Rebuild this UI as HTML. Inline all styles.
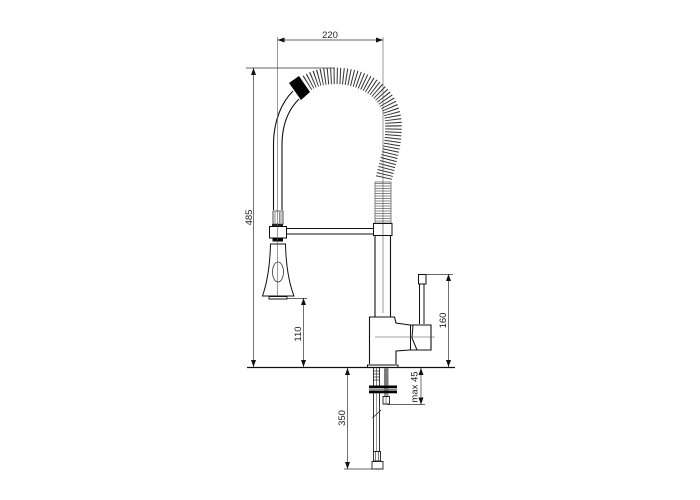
<!DOCTYPE html>
<html>
<head>
<meta charset="utf-8">
<style>
html,body{margin:0;padding:0;background:#fff}
svg{display:block}
text{font-family:"Liberation Sans",sans-serif;font-size:9.500px;fill:#222}
</style>
</head>
<body>
<svg width="700" height="500" viewBox="0 0 700 500" xmlns="http://www.w3.org/2000/svg">
<rect width="700" height="500" fill="#fff"/>

<!-- coil -->
<path d="M307 83 C318 76 330 75.500 341 76 C368 78 393 96 393.500 125 C394 145 388 160 384 178" fill="none" stroke="#333" stroke-width="16.500" stroke-dasharray="1 2.100"/>
<path d="M375 182H391V223H375Z" fill="#fff" stroke="#666" stroke-width=".8"/>
<path d="M375 183.500H391M375 186H391M375 188.500H391M375 191H391M375 193.500H391M375 196H391M375 198.500H391M375 201H391M375 203.500H391M375 206H391M375 208.500H391M375 211H391M375 213.500H391M375 216H391M375 218.500H391M375 221H391" stroke="#666" stroke-width=".8" fill="none"/>

<!-- hose -->
<path d="M273.500 210V145C273.500 120 282 102 293 91" fill="none" stroke="#111" stroke-width="1.100"/>
<path d="M282 210V145C282 125 288 110 299 99" fill="none" stroke="#111" stroke-width="1.100"/>
<polygon points="289,83 299,76 310,92 301,100" fill="#000"/>

<!-- nut -->
<path d="M273 211H283V224H273Z" fill="#fff" stroke="#222" stroke-width=".8"/>
<path d="M275 212V223M279.500 212V223M281 212V223" stroke="#555" stroke-width=".7"/>
<rect x="272" y="224" width="11" height="2" fill="#222"/>
<rect x="269.500" y="226.500" width="17" height="11.500" fill="#fff" stroke="#111" stroke-width="1"/>
<rect x="272.500" y="238" width="10.500" height="3.500" fill="#000"/>
<!-- bar -->
<path d="M286 228.500H374M286 234H374" stroke="#111" stroke-width="1.100"/>
<!-- handle -->
<path d="M270.500 244H285.500C286 265 289 283 294 296H262.500C267 283 270 265 270.500 244Z" fill="#fff" stroke="#111" stroke-width="1"/>
<path d="M269 296.500H287V299H269Z" fill="#fff" stroke="#111" stroke-width=".9"/>
<ellipse cx="278" cy="272" rx="5.500" ry="10" fill="#fff" stroke="#333" stroke-width=".8"/>

<!-- centre lines -->
<path d="M277.500 37V296" stroke="#555" stroke-width=".6"/>
<path d="M383 37V313" stroke="#555" stroke-width=".6"/>

<!-- column -->
<rect x="373.500" y="223.500" width="18.500" height="12" fill="#fff" stroke="#111" stroke-width="1"/>
<path d="M383 223.500V235.500" stroke="#444" stroke-width=".6"/>
<path d="M375 235.500V317M390.500 235.500V317" stroke="#111" stroke-width="1.100"/>

<!-- body -->
<path d="M369.500 364V317H394.500L396 323L410 325H431V350H410L396 351V364" fill="#fff" stroke="#111" stroke-width="1.100"/>
<path d="M410.500 325V350M413 325L412 338L417 350" fill="none" stroke="#111" stroke-width="1"/>
<path d="M367.500 367V365H398V367" fill="#fff" stroke="#111" stroke-width="1"/>
<path d="M375 337H435" stroke="#444" stroke-width=".6"/>
<!-- lever -->
<path d="M419.500 324V284M424 324V284" stroke="#111" stroke-width="1"/>
<rect x="418.500" y="274.500" width="7.500" height="9.500" fill="#fff" stroke="#111" stroke-width="1"/>

<!-- below deck -->
<path d="M373.500 368V386M379.500 368V386" stroke="#222" stroke-width=".9"/>
<path d="M373.500 371H379.500M373.500 374H379.500M373.500 377H379.500M373.500 380H379.500" stroke="#333" stroke-width=".8"/>
<path d="M376.500 368V386" stroke="#444" stroke-width=".7"/>
<rect x="384" y="368" width="4.500" height="28" fill="#999"/>
<path d="M384 370H388.500M384 372H388.500M384 374H388.500M384 376H388.500M384 378H388.500M384 380H388.500M384 382H388.500M384 384H388.500" stroke="#444" stroke-width=".7"/>
<rect x="369" y="385.500" width="28" height="2.800" fill="#000"/>
<rect x="369" y="390.500" width="28" height="2.800" fill="#000"/>
<path d="M369 389.400H397" stroke="#666" stroke-width=".7"/>
<path d="M373.500 393V452M379.500 393V452" stroke="#222" stroke-width=".9"/>
<path d="M376.500 393V469" stroke="#555" stroke-width=".6"/>
<path d="M372.500 418L381 410" stroke="#222" stroke-width=".8"/>
<path d="M383 396.500H389.500V404H383Z" fill="#fff" stroke="#222" stroke-width=".9"/>
<path d="M386 396.500V404" stroke="#444" stroke-width=".6"/>
<path d="M373.500 451.500H380.500V461H373.500Z" fill="#fff" stroke="#222" stroke-width=".9"/>
<path d="M375.500 452V461M378.500 452V461" stroke="#444" stroke-width=".7"/>
<path d="M372 461.500H383V469H372Z" fill="#fff" stroke="#222" stroke-width=".9"/>

<!-- deck -->
<path d="M247 367.500H455" stroke="#111" stroke-width="1.200"/>

<!-- dimensions -->
<g stroke="#333" stroke-width=".7" fill="none">
<path d="M277.500 40H383"/>
<path d="M246 68H335"/>
<path d="M253.500 68V367"/>
<path d="M287 298.500H307"/>
<path d="M303.500 298V367"/>
<path d="M426 274.500H453"/>
<path d="M448.500 274V367"/>
<path d="M421 368V405"/>
<path d="M387 404.500H425"/>
<path d="M347.500 368V469"/>
<path d="M344 469H375"/>
</g>
<g fill="#111">
<polygon points="277.500,40 284.500,37.500 284.500,42.500"/>
<polygon points="383,40 376,37.500 376,42.500"/>
<polygon points="253.500,68 251,75 256,75"/>
<polygon points="253.500,367 251,360 256,360"/>
<polygon points="303.500,298 301,305 306,305"/>
<polygon points="303.500,367 301,360 306,360"/>
<polygon points="448.500,274 446,281 451,281"/>
<polygon points="448.500,367 446,360 451,360"/>
<polygon points="421,368 418.500,375 423.500,375"/>
<polygon points="421,404.500 418.500,397.500 423.500,397.500"/>
<polygon points="347.500,368 345,375 350,375"/>
<polygon points="347.500,469 345,462 350,462"/>
</g>

<!-- labels -->
<text x="330" y="38" text-anchor="middle">220</text>
<text transform="translate(252 217.500) rotate(-90)" text-anchor="middle">485</text>
<text transform="translate(301 334) rotate(-90)" text-anchor="middle">110</text>
<text transform="translate(446 320.500) rotate(-90)" text-anchor="middle">160</text>
<text transform="translate(417.500 387) rotate(-90)" text-anchor="middle">max 45</text>
<text transform="translate(345 418) rotate(-90)" text-anchor="middle">350</text>
</svg>
</body>
</html>
